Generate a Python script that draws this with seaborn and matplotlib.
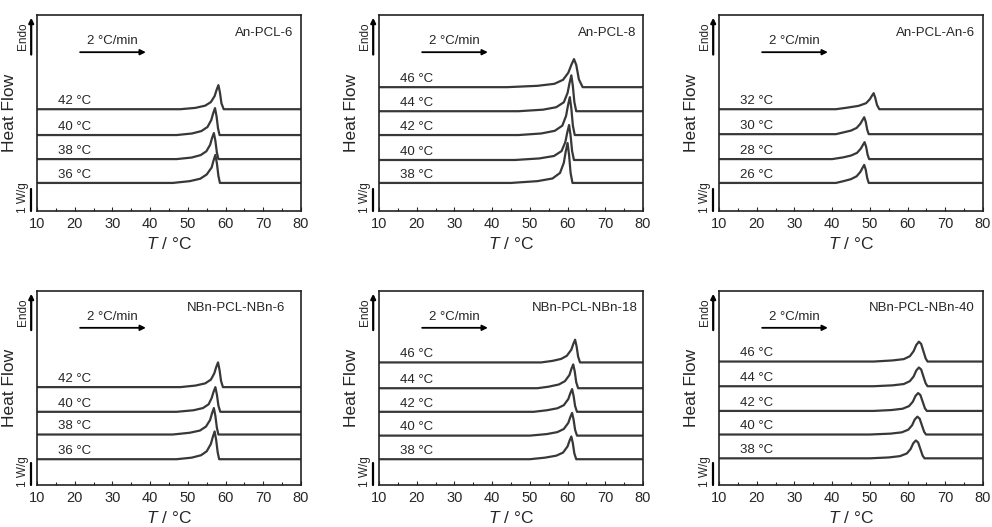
import numpy as np
import matplotlib
matplotlib.use("Agg")
import matplotlib.pyplot as plt
import seaborn as sns

# ---- data (T in °C, heat flow in W/g above each baseline) ----
an_pcl_6 = {
    "36 °C": ([10, 46, 50.5, 53.3, 55.0, 56.3, 56.8, 57.3, 57.7, 58.1, 58.5, 80],
              [0, 0, 0.08, 0.19, 0.38, 0.69, 1.0, 1.26, 0.88, 0.32, 0, 0]),
    "38 °C": ([10, 47, 51.0, 53.4, 54.9, 55.9, 56.4, 56.9, 57.3, 57.7, 58.1, 80],
              [0, 0, 0.07, 0.18, 0.35, 0.64, 0.94, 1.17, 0.82, 0.29, 0, 0]),
    "40 °C": ([10, 47, 51.1, 53.6, 55.2, 56.2, 56.7, 57.2, 57.6, 58.0, 58.4, 80],
              [0, 0, 0.07, 0.18, 0.36, 0.67, 0.97, 1.21, 0.85, 0.30, 0, 0]),
    "42 °C": ([10, 48, 52.0, 54.6, 56.1, 57.1, 57.6, 58.1, 58.5, 58.9, 59.5, 80],
              [0, 0, 0.06, 0.16, 0.32, 0.59, 0.86, 1.08, 0.76, 0.27, 0, 0]),
}
an_pcl_8 = {
    "38 °C": ([10, 45, 52, 56, 58, 59.0, 59.5, 60.0, 60.4, 60.8, 61.3, 80],
              [0, 0, 0.08, 0.2, 0.45, 0.9, 1.4, 1.79, 1.25, 0.45, 0, 0]),
    "40 °C": ([10, 46, 52.5, 56.4, 58.4, 59.4, 59.9, 60.4, 60.8, 61.2, 61.7, 80],
              [0, 0, 0.07, 0.18, 0.4, 0.8, 1.22, 1.57, 1.1, 0.4, 0, 0]),
    "42 °C": ([10, 47, 53, 56.6, 58.6, 59.6, 60.1, 60.6, 61.0, 61.4, 61.9, 80],
              [0, 0, 0.07, 0.19, 0.42, 0.86, 1.32, 1.70, 1.19, 0.43, 0, 0]),
    "44 °C": ([10, 47, 53.5, 57, 59, 60, 60.5, 61.0, 61.4, 61.8, 62.3, 80],
              [0, 0, 0.07, 0.18, 0.4, 0.82, 1.25, 1.61, 1.13, 0.41, 0, 0]),
    "46 °C": ([10, 44, 52, 56.5, 58.8, 60.2, 61.0, 61.7, 62.3, 63.0, 64.0, 80],
              [0, 0, 0.06, 0.15, 0.33, 0.65, 1.0, 1.26, 1.0, 0.35, 0, 0]),
}
an_pcl_an_6 = {
    "26 °C": ([10, 41, 43, 45, 46.5, 47.5, 48.0, 48.5, 48.9, 49.3, 49.7, 80],
              [0, 0, 0.08, 0.17, 0.3, 0.5, 0.66, 0.81, 0.6, 0.22, 0, 0]),
    "28 °C": ([10, 40, 43, 45, 46.6, 47.6, 48.1, 48.6, 49.0, 49.4, 49.8, 80],
              [0, 0, 0.08, 0.16, 0.28, 0.47, 0.62, 0.76, 0.56, 0.2, 0, 0]),
    "30 °C": ([10, 41, 43, 45, 46.5, 47.5, 48.0, 48.5, 48.9, 49.3, 49.7, 80],
              [0, 0, 0.08, 0.16, 0.28, 0.47, 0.62, 0.76, 0.56, 0.2, 0, 0]),
    "32 °C": ([10, 41, 44, 47, 49, 50.0, 50.5, 51.0, 51.4, 51.9, 52.5, 80],
              [0, 0, 0.07, 0.15, 0.27, 0.45, 0.59, 0.72, 0.53, 0.19, 0, 0]),
}
nbn_pcl_nbn_6 = {
    "36 °C": ([10, 47, 51, 53.5, 55.0, 56.1, 56.6, 57.1, 57.5, 57.9, 58.3, 80],
              [0, 0, 0.07, 0.18, 0.36, 0.69, 1.0, 1.26, 0.88, 0.32, 0, 0]),
    "38 °C": ([10, 46, 50.5, 53.2, 54.8, 55.9, 56.4, 56.9, 57.3, 57.7, 58.1, 80],
              [0, 0, 0.08, 0.18, 0.36, 0.66, 0.96, 1.2, 0.84, 0.3, 0, 0]),
    "40 °C": ([10, 47, 51.5, 54, 55.5, 56.3, 56.8, 57.3, 57.7, 58.1, 58.6, 80],
              [0, 0, 0.07, 0.17, 0.34, 0.62, 0.9, 1.12, 0.78, 0.28, 0, 0]),
    "42 °C": ([10, 48, 52, 54.6, 56.1, 57.0, 57.5, 58.0, 58.4, 58.8, 59.3, 80],
              [0, 0, 0.07, 0.17, 0.34, 0.62, 0.9, 1.12, 0.78, 0.28, 0, 0]),
}
nbn_pcl_nbn_18 = {
    "38 °C": ([10, 50, 54, 57, 58.8, 60.0, 60.5, 61.0, 61.4, 61.8, 62.3, 80],
              [0, 0, 0.07, 0.16, 0.3, 0.58, 0.83, 1.03, 0.72, 0.26, 0, 0]),
    "40 °C": ([10, 50, 54.5, 57.3, 59, 60.2, 60.7, 61.2, 61.6, 62.0, 62.5, 80],
              [0, 0, 0.07, 0.16, 0.3, 0.58, 0.83, 1.03, 0.72, 0.26, 0, 0]),
    "42 °C": ([10, 51, 54.5, 57.3, 59, 60.2, 60.7, 61.2, 61.6, 62.0, 62.5, 80],
              [0, 0, 0.07, 0.16, 0.3, 0.58, 0.83, 1.03, 0.72, 0.26, 0, 0]),
    "44 °C": ([10, 52, 55, 57.7, 59.3, 60.5, 61.0, 61.5, 61.9, 62.3, 62.8, 80],
              [0, 0, 0.07, 0.17, 0.32, 0.6, 0.87, 1.08, 0.76, 0.27, 0, 0]),
    "46 °C": ([10, 53, 56, 58.3, 59.8, 61.0, 61.5, 62.0, 62.4, 62.8, 63.3, 80],
              [0, 0, 0.07, 0.16, 0.3, 0.58, 0.83, 1.03, 0.72, 0.26, 0, 0]),
}
nbn_pcl_nbn_40 = {
    "38 °C": ([10, 50, 55, 58, 59.8, 60.8, 61.5, 62.2, 62.8, 63.4, 64.0, 64.5, 80],
              [0, 0, 0.04, 0.1, 0.22, 0.42, 0.68, 0.81, 0.72, 0.42, 0.12, 0, 0]),
    "40 °C": ([10, 50, 55.5, 58.5, 60.2, 61.2, 61.9, 62.6, 63.2, 63.8, 64.4, 64.9, 80],
              [0, 0, 0.04, 0.1, 0.22, 0.42, 0.68, 0.81, 0.72, 0.42, 0.12, 0, 0]),
    "42 °C": ([10, 51, 55.7, 58.7, 60.4, 61.4, 62.1, 62.8, 63.4, 64.0, 64.6, 65.1, 80],
              [0, 0, 0.04, 0.1, 0.22, 0.42, 0.68, 0.81, 0.72, 0.42, 0.12, 0, 0]),
    "44 °C": ([10, 51, 56, 59, 60.6, 61.6, 62.3, 63.0, 63.6, 64.2, 64.8, 65.3, 80],
              [0, 0, 0.04, 0.1, 0.23, 0.44, 0.71, 0.85, 0.76, 0.44, 0.13, 0, 0]),
    "46 °C": ([10, 51, 56, 59, 60.6, 61.6, 62.3, 63.0, 63.6, 64.2, 64.8, 65.3, 80],
              [0, 0, 0.05, 0.11, 0.24, 0.47, 0.75, 0.9, 0.8, 0.47, 0.14, 0, 0]),
}

sample_names = ["An-PCL-6", "An-PCL-8", "An-PCL-An-6",
                "NBn-PCL-NBn-6", "NBn-PCL-NBn-18", "NBn-PCL-NBn-40"]
panels = [an_pcl_6, an_pcl_8, an_pcl_an_6, nbn_pcl_nbn_6, nbn_pcl_nbn_18, nbn_pcl_nbn_40]
# vertical offsets of each trace (W/g), bottom to top
baselines = [
    [1.26, 2.33, 3.41, 4.57],
    [1.26, 2.29, 3.41, 4.48, 5.56],
    [1.26, 2.33, 3.45, 4.57],
    [1.17, 2.29, 3.32, 4.44],
    [1.17, 2.24, 3.32, 4.39, 5.56],
    [1.21, 2.29, 3.36, 4.48, 5.60],
]
rate_label = "2 °C/min"
x_ticks = [10, 20, 30, 40, 50, 60, 70, 80]

# ---- style ----
sns.set_style("ticks")
plt.rcParams["font.family"] = ["Liberation Sans", "DejaVu Sans"]
plt.rcParams["mathtext.fontset"] = "custom"
plt.rcParams["mathtext.it"] = "Liberation Sans:italic"
plt.rcParams["mathtext.rm"] = "Liberation Sans"

ink = "#262626"
line_col = "#383838"

fig = plt.figure(figsize=(9.92, 5.27), dpi=100)
lefts = [37 / 992, 379 / 992, 719 / 992]
bottoms = [1 - 211 / 527, 1 - 485 / 527]
heights = [196 / 527, 194 / 527]
width = 264 / 992
title_x = [0.97, 0.975, 0.97, 0.94, 0.98, 0.97]
YTOP = 8.8

for i, (name, data, base) in enumerate(zip(sample_names, panels, baselines)):
    r, c = divmod(i, 3)
    ax = fig.add_axes([lefts[c], bottoms[r], width, heights[r]])
    for (lab, (t, hf)), off in zip(data.items(), base):
        sns.lineplot(x=t, y=np.array(hf) + off, ax=ax, color=line_col, lw=1.6,
                     estimator=None, sort=False)
        ax.text(15.5, off + 0.1, lab, fontsize=9.5, color=ink, ha="left", va="bottom")

    ax.set_xlim(10, 80)
    ax.set_ylim(0, YTOP)
    ax.set_xticks(x_ticks)
    ax.set_xticks(range(15, 80, 10), minor=True)
    ax.set_yticks([])
    ax.tick_params(axis="x", which="major", direction="in", length=3, width=0.8,
                   labelsize=10.5, colors=ink, pad=4)
    ax.tick_params(axis="x", which="minor", direction="in", length=2.5, width=0.8)
    for sp in ax.spines.values():
        sp.set_color("#222222")
        sp.set_linewidth(1.2)

    ax.set_xlabel(r"$T$ / °C", fontsize=12.5, color=ink, labelpad=4)
    ax.set_ylabel("Heat Flow", fontsize=12.5, color=ink)
    ax.yaxis.set_label_coords(-0.075, 0.5)

    ax.text(title_x[i], 0.91, name, transform=ax.transAxes, fontsize=9.5,
            color=ink, ha="right", va="center")

    # heating-rate arrow
    ax.annotate("", xy=(39.6, 7.13), xytext=(20.7, 7.13),
                arrowprops=dict(arrowstyle="-|>", color="k", lw=1.3, mutation_scale=8))
    ax.text(30, 7.35, rate_label, fontsize=9.5, color=ink, ha="center", va="bottom")

    # Endo arrow and 1 W/g scale bar outside the axis
    ytr = ax.get_yaxis_transform()
    ax.annotate("", xy=(-0.022, YTOP), xytext=(-0.022, 6.9), xycoords=ytr,
                textcoords=ytr, annotation_clip=False,
                arrowprops=dict(arrowstyle="-|>", color="k", lw=1.6, mutation_scale=7))
    ax.plot([-0.022, -0.022], [0, 1.0], transform=ytr, clip_on=False, color="k", lw=1.6)
    ax.text(-0.054, 7.85, "Endo", transform=ytr, rotation=90, fontsize=8.5,
            color=ink, ha="center", va="center")
    ax.text(-0.054, 0.62, "1 W/g", transform=ytr, rotation=90, fontsize=8.5,
            color=ink, ha="center", va="center")

fig.savefig("out.png", dpi=100)
